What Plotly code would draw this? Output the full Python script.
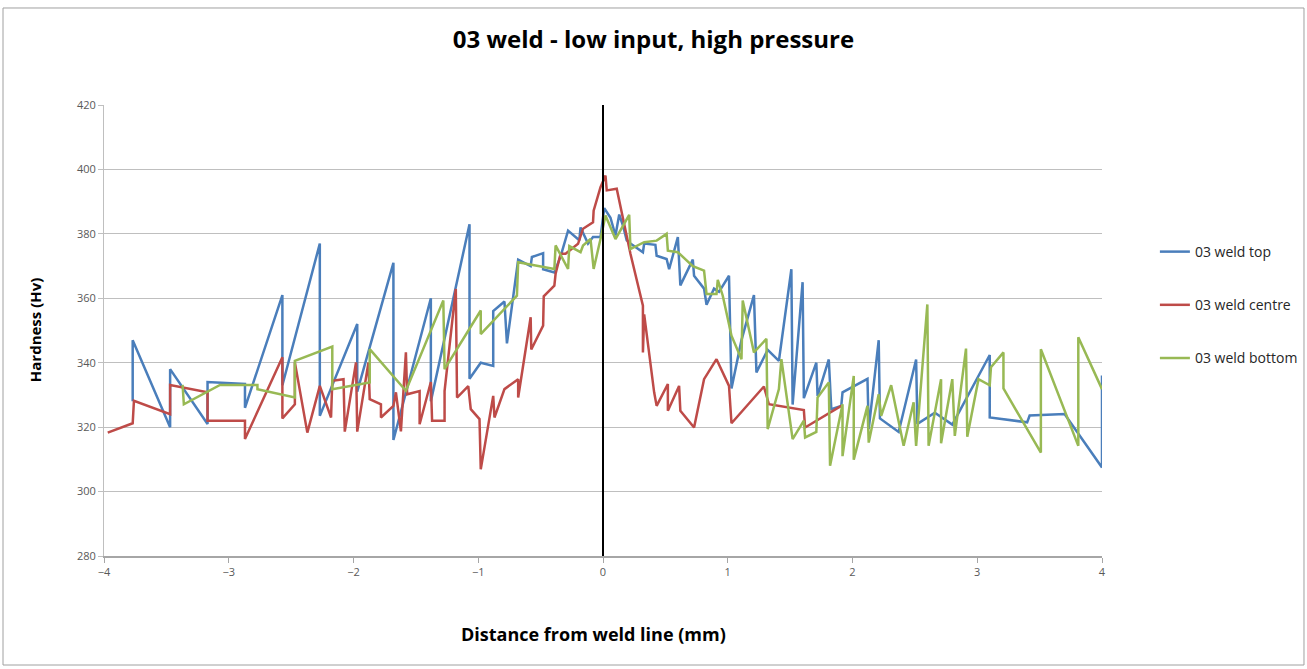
import plotly.graph_objects as go

# ---- data (distance mm, hardness Hv) ----
top_x = [-3.77, -3.77, -3.47, -3.47, -3.17, -3.17, -2.87, -2.87, -2.57, -2.57, -2.27, -2.27, -1.97, -1.97,
         -1.68, -1.68, -1.38, -1.38, -1.07, -1.07, -0.98, -0.88, -0.88, -0.79, -0.77, -0.70, -0.68, -0.58,
         -0.57, -0.48, -0.48, -0.39, -0.34, -0.28, -0.19, -0.18, -0.12, -0.08, -0.02, 0.01, 0.06, 0.10,
         0.13, 0.16, 0.19, 0.22, 0.32, 0.33, 0.42, 0.43, 0.51, 0.53, 0.60, 0.62, 0.72, 0.73, 0.81, 0.83,
         0.89, 0.93, 1.01, 1.03, 1.11, 1.21, 1.23, 1.32, 1.41, 1.51, 1.52, 1.60, 1.61, 1.71, 1.72, 1.81,
         1.83, 1.91, 1.92, 2.12, 2.13, 2.21, 2.22, 2.37, 2.51, 2.52, 2.66, 2.80, 3.10, 3.10, 3.40, 3.42,
         3.70, 4.00, 4.00]
top_y = [328, 347, 320, 338, 321, 334, 333.4, 326, 361, 333, 377, 323.5, 352, 331,
         371, 316, 360, 328, 383, 335, 340, 339, 356, 359, 346, 365, 372, 370,
         372.8, 374, 369, 368, 373, 381, 378, 382, 377, 379, 379, 388, 385, 379.5,
         386, 382.6, 378, 377, 374.3, 377, 376.6, 373.2, 372.2, 369, 379, 364, 372, 367, 363, 358,
         363, 362, 367, 332, 347, 361, 337, 344, 340.6, 369, 327, 365, 329, 340, 329.7, 341,
         325.6, 326.6, 330.8, 335, 319.4, 347, 322.7, 318.5, 341, 321, 324.5, 320.8, 342.4, 323, 321.5, 323.6,
         324.1, 307.5, 336]

centre_x = [-3.97, -3.77, -3.76, -3.47, -3.47, -3.17, -3.17, -2.87, -2.87, -2.57, -2.57, -2.47, -2.47,
            -2.37, -2.27, -2.18, -2.17, -2.08, -2.07, -1.98, -1.97, -1.88, -1.87, -1.78, -1.78, -1.68,
            -1.66, -1.62, -1.58, -1.57, -1.47, -1.47, -1.38, -1.37, -1.27, -1.27, -1.18, -1.17, -1.08,
            -1.06, -0.99, -0.98, -0.88, -0.87, -0.79, -0.68, -0.68, -0.58, -0.575, -0.48, -0.475, -0.39,
            -0.38, -0.34, -0.30, -0.20, -0.16, -0.08, -0.075, -0.02, 0.02, 0.03, 0.11, 0.20, 0.22, 0.32,
            0.32, 0.33, 0.41, 0.43, 0.52, 0.52, 0.61, 0.62, 0.73, 0.81, 0.91, 1.01, 1.03, 1.29, 1.33,
            1.61, 1.62, 1.91]
centre_y = [318.3, 321.2, 328.2, 324.0, 333.1, 330.8, 322.0, 322.0, 316.3, 341.7, 322.7, 327.1, 340.1,
            318.3, 332.8, 323.0, 334.4, 334.9, 318.6, 340.1, 318.6, 340.1, 328.7, 327.1, 323.0, 326.6,
            330.8, 318.7, 343.2, 330.2, 331.2, 320.9, 334.0, 322.0, 322.0, 331.2, 362.9, 329.2, 332.7,
            325.6, 322.5, 306.9, 329.7, 323.0, 331.8, 334.9, 329.2, 354.1, 344.1, 351.5, 360.6, 363.9,
            367.6, 373.8, 373.8, 376.9, 381.6, 383.6, 387.2, 394.5, 398.1, 393.5, 394.0, 376.9, 373.8, 357.7,
            343.2, 355.0, 330.8, 326.6, 333.4, 325.1, 332.8, 325.1, 319.9, 334.9, 341.1, 332.8, 321.2, 332.6, 327.1,
            325.3, 319.9, 326.6]

bottom_x = [-3.37, -3.36, -3.07, -2.77, -2.77, -2.47, -2.47, -2.17, -2.17, -1.87, -1.87, -1.58, -1.28,
            -1.27, -0.98, -0.98, -0.69, -0.68, -0.39, -0.38, -0.28, -0.27, -0.18, -0.16, -0.10, -0.075,
            -0.02, 0.02, 0.10, 0.21, 0.22, 0.33, 0.43, 0.51, 0.52, 0.60, 0.72, 0.81, 0.83, 0.91, 0.92,
            0.96, 1.03, 1.11, 1.12, 1.21, 1.31, 1.32, 1.41, 1.43, 1.52, 1.61, 1.62, 1.71, 1.72, 1.81, 1.82,
            1.92, 1.92, 2.01, 2.01, 2.12, 2.13, 2.21, 2.23, 2.31, 2.41, 2.49, 2.51, 2.60, 2.61, 2.71, 2.71,
            2.80, 2.82, 2.91, 2.92, 3.01, 3.10, 3.11, 3.21, 3.21, 3.51, 3.51, 3.81, 3.81, 4.00]
bottom_y = [333.1, 327.1, 333.1, 333.1, 331.8, 329.2, 340.6, 345.0, 331.8, 333.9, 344.2, 331.3, 359.3,
            338.0, 356.2, 348.9, 360.8, 371.2, 369.1, 376.4, 369.1, 376.2, 374.3, 376.4, 378.4, 369.1,
            378.4, 385.7, 378.4, 385.9, 375.3, 377.4, 377.9, 380.0, 374.8, 374.3, 370.0, 368.6, 361.3, 361.3, 365.7,
            360.8, 348.4, 341.1, 359.3, 343.2, 347.4, 319.4, 331.8, 341.1, 316.3, 322.0, 316.8, 318.5, 329.2, 333.9, 308.0,
            327.1, 311.0, 335.9, 309.9, 326.6, 315.2, 330.2, 323.5, 333.0, 314.2, 327.7, 314.2, 358.1, 314.2, 334.9, 315.0,
            334.9, 317.3, 344.4, 317.0, 334.9, 333.0, 338.6, 343.2, 332.0, 312.1, 344.2, 314.2, 347.9, 331.8]

weld_line_x = [0, 0]
weld_line_y = [280, 420]

series = [
    ("03 weld top", top_x, top_y, "#4A7EBB"),
    ("03 weld centre", centre_x, centre_y, "#BE4B48"),
    ("03 weld bottom", bottom_x, bottom_y, "#98B954"),
]

FONT = "Open Sans"

fig = go.Figure()
for i, (name, xs, ys, col) in enumerate(series):
    fig.add_trace(go.Scatter(x=xs, y=ys, mode="lines", name=name, legendgroup=f"g{i}",
                             line=dict(color=col, width=2.5)))
fig.add_trace(go.Scatter(x=weld_line_x, y=weld_line_y, mode="lines", showlegend=False,
                         line=dict(color="#000000", width=2), hoverinfo="skip"))

fig.update_layout(
    width=1307, height=669,
    margin=dict(l=104, r=205, t=105, b=113, autoexpand=False),
    paper_bgcolor="white", plot_bgcolor="white",
    font=dict(family=FONT, color="#404040"),
    title=dict(text="<b>03 weld - low input, high pressure</b>", x=0.5, xref="container",
               y=1 - 40 / 669, yref="container", xanchor="center", yanchor="middle",
               font=dict(family=FONT, size=24, color="#000000")),
    showlegend=True,
    legend=dict(x=1.053, xanchor="left", y=0.7095, yanchor="top", tracegroupgap=32,
                font=dict(family=FONT, size=14, color="#262626"), bgcolor="rgba(0,0,0,0)"),
    xaxis=dict(range=[-4, 4], tickmode="linear", tick0=-4, dtick=1, showgrid=False, zeroline=False,
               showline=True, linecolor="#A6A6A6", linewidth=2, ticks="outside", ticklen=5,
               tickcolor="#A6A6A6", tickfont=dict(family=FONT, size=11, color="#595959")),
    yaxis=dict(range=[280, 420], tickmode="linear", tick0=280, dtick=20, showgrid=True,
               gridcolor="#BFBFBF", gridwidth=1, zeroline=False, showline=True, linecolor="#BFBFBF",
               linewidth=1, ticks="outside", ticklen=5, tickcolor="#BFBFBF",
               tickfont=dict(family=FONT, size=11, color="#595959")),
    annotations=[
        dict(text="<b>Hardness (Hv)</b>", xref="paper", yref="paper", x=-0.069, y=0.501,
             textangle=-90, showarrow=False, xanchor="center", yanchor="middle",
             font=dict(family=FONT, size=15, color="#000000")),
        dict(text="<b>Distance from weld line (mm)</b>", xref="paper", yref="paper", x=0.49, y=-0.173,
             showarrow=False, xanchor="center", yanchor="middle",
             font=dict(family=FONT, size=18, color="#000000")),
    ],
    shapes=[
        dict(type="rect", xref="paper", yref="paper", x0=-0.1012, x1=1.2024, y0=-0.2417, y1=1.2151,
             line=dict(color="#A0A0A0", width=1), fillcolor="rgba(0,0,0,0)", layer="below"),
    ],
)

fig.write_html("out.html")
